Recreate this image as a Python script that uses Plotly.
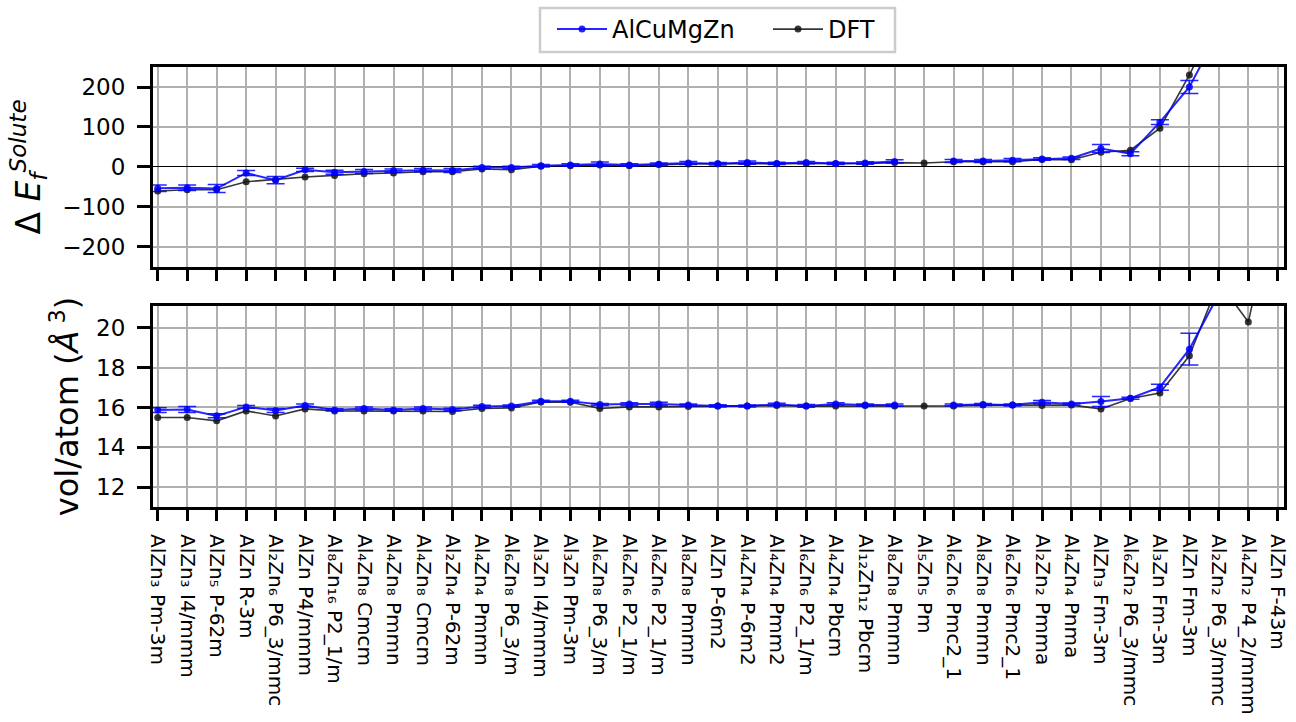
import plotly.graph_objects as go
from plotly.subplots import make_subplots

labels = [
    "AlZn₃ Pm-3m", "AlZn₃ I4/mmm", "AlZn₅ P-62m", "AlZn R-3m", "Al₂Zn₆ P6_3/mmc",
    "AlZn P4/mmm", "Al₈Zn₁₆ P2_1/m", "Al₄Zn₈ Cmcm", "Al₄Zn₈ Pmmn", "Al₄Zn₈ Cmcm",
    "Al₂Zn₄ P-62m", "Al₄Zn₄ Pmmn", "Al₆Zn₈ P6_3/m", "Al₃Zn I4/mmm", "Al₃Zn Pm-3m",
    "Al₆Zn₈ P6_3/m", "Al₆Zn₆ P2_1/m", "Al₆Zn₆ P2_1/m", "Al₈Zn₈ Pmmn", "AlZn P-6m2",
    "Al₄Zn₄ P-6m2", "Al₄Zn₄ Pmm2", "Al₆Zn₆ P2_1/m", "Al₄Zn₄ Pbcm", "Al₁₂Zn₁₂ Pbcm",
    "Al₈Zn₈ Pmmn", "Al₅Zn₅ Pm", "Al₆Zn₆ Pmc2_1", "Al₈Zn₈ Pmmn", "Al₆Zn₆ Pmc2_1",
    "Al₂Zn₂ Pmma", "Al₄Zn₄ Pnma", "AlZn₃ Fm-3m", "Al₆Zn₂ P6_3/mmc", "Al₃Zn Fm-3m",
    "AlZn Fm-3m", "Al₂Zn₂ P6_3/mmc", "Al₄Zn₂ P4_2/mmm", "AlZn F-43m",
]

# Formation energy difference (solute)
dE_model = [-53, -52, -54, -15, -33, -7, -13, -11, -9, -8,
            -9, -1, -1, 3, 5, 7.5, 5, 7, 10, 8,
            11, 9, 11, 9, 10, 14, None, 15, 15, 17,
            20, 22, 46, 33, 112, 200, 340, None, None]
dE_model_err = [8, 7, 10, 6, 9, 4, 5, 5, 4, 4,
                5, 3, 3, 3, 3, 5, 3, 3, 4, 3,
                4, 3, 3, 3, 3, 4, None, 4, 4, 4,
                3, 3, 10, 5, 6, 16, 20, None, None]
dE_dft = [-60, -57, -57, -37, -31, -25, -21, -17, -15, -12,
          -12, -5, -7, 2, 3, 5, 3, 6, 7.5, 8,
          8, 8, 9, 8, 9, 11, 10, 13, 13, 13,
          19, 18, 37, 42, 97, 230, 380, 450, 500]

# Volume per atom
vol_model = [15.87, 15.9, 15.58, 16.03, 15.85, 16.1, 15.88, 15.95, 15.88, 15.95,
             15.9, 16.05, 16.08, 16.32, 16.32, 16.15, 16.17, 16.18, 16.12, 16.08,
             16.08, 16.15, 16.08, 16.18, 16.12, 16.12, None, 16.12, 16.15, 16.13,
             16.27, 16.18, 16.3, 16.47, 17.02, 18.93, 21.7, None, None]
vol_model_err = [0.12, 0.15, 0.1, 0.07, 0.1, 0.07, 0.06, 0.08, 0.06, 0.07,
                 0.06, 0.06, 0.05, 0.05, 0.05, 0.05, 0.07, 0.08, 0.05, 0.06,
                 0.05, 0.06, 0.07, 0.06, 0.05, 0.06, None, 0.05, 0.05, 0.05,
                 0.08, 0.05, 0.25, 0.05, 0.15, 0.8, 0.5, None, None]
vol_dft = [15.5, 15.5, 15.33, 15.83, 15.57, 15.93, 15.83, 15.82, 15.83, 15.82,
           15.8, 15.95, 15.98, 16.28, 16.27, 15.95, 16.03, 16.03, 16.05, 16.07,
           16.07, 16.1, 16.07, 16.07, 16.1, 16.08, 16.07, 16.08, 16.12, 16.12,
           16.1, 16.12, 15.93, 16.45, 16.73, 18.6, 22.3, 20.3, 27.0]

x = list(range(len(labels)))

BLUE = "rgba(0,0,255,0.85)"
DFT_C = "rgba(20,20,20,0.85)"
FONT = "DejaVu Sans"

fig = make_subplots(rows=2, cols=1, shared_xaxes=False)

# DFT first (drawn underneath)
fig.add_trace(go.Scatter(x=x, y=dE_dft, mode="lines+markers", name="DFT",
                         line=dict(color=DFT_C, width=1.6),
                         marker=dict(color=DFT_C, size=7),
                         legendrank=2, showlegend=True), row=1, col=1)
fig.add_trace(go.Scatter(x=x, y=vol_dft, mode="lines+markers", name="DFT",
                         line=dict(color=DFT_C, width=1.6),
                         marker=dict(color=DFT_C, size=7),
                         showlegend=False), row=2, col=1)

fig.add_trace(go.Scatter(x=x, y=dE_model, mode="lines+markers", name="AlCuMgZn",
                         line=dict(color=BLUE, width=2),
                         marker=dict(color=BLUE, size=7),
                         error_y=dict(type="data", array=dE_model_err, visible=True,
                                      color=BLUE, thickness=1.5, width=9),
                         legendrank=1, showlegend=True), row=1, col=1)
fig.add_trace(go.Scatter(x=x, y=vol_model, mode="lines+markers", name="AlCuMgZn",
                         line=dict(color=BLUE, width=2),
                         marker=dict(color=BLUE, size=7),
                         error_y=dict(type="data", array=vol_model_err, visible=True,
                                      color=BLUE, thickness=1.5, width=9),
                         showlegend=False), row=2, col=1)

xr = [-0.16, 38.21]
common_x = dict(range=xr, tickmode="array", tickvals=x, showgrid=True,
                gridcolor="#b0b0b0", gridwidth=1.5, showline=True, linecolor="black",
                linewidth=3, mirror=True, ticks="outside", ticklen=11, tickwidth=2.5,
                tickcolor="black", zeroline=False, automargin=False)
fig.update_xaxes(**common_x, ticktext=[""] * len(x), showticklabels=False, row=1, col=1)
fig.update_xaxes(**common_x, ticktext=labels, tickangle=90, ticklabelstandoff=9,
                 tickfont=dict(family=FONT, size=20, color="black"), row=2, col=1)

common_y = dict(showgrid=True, gridcolor="#b0b0b0", gridwidth=1.5, showline=True,
                linecolor="black", linewidth=3, mirror=True, ticks="outside",
                ticklen=13, tickwidth=2.5, tickcolor="black", automargin=False,
                ticklabelstandoff=7,
                tickfont=dict(family=FONT, size=23, color="black"))
fig.update_yaxes(**common_y, range=[-250, 250], tickvals=[-200, -100, 0, 100, 200],
                 zeroline=True, zerolinecolor="black", zerolinewidth=1.2,
                 title=dict(text="Δ <i>E</i><sub><i>f</i></sub><sup><i>Solute</i></sup>",
                            font=dict(family=FONT, size=33, color="black"), standoff=12),
                 row=1, col=1)
fig.update_yaxes(**common_y, range=[11.0, 21.1], tickvals=[12, 14, 16, 18, 20],
                 zeroline=False,
                 title=dict(text="vol/atom (<i>Å</i><sup> 3</sup>)",
                            font=dict(family=FONT, size=32, color="black"), standoff=8),
                 row=2, col=1)

# legend frame (pixel-matched box around the horizontal legend)
PLOT_L, PLOT_R, PLOT_T, PLOT_B = 153, 1284, 67, 507
def px_x(p):
    return (p - PLOT_L) / (PLOT_R - PLOT_L)
def px_y(p):
    return 1 + (PLOT_T - p) / (PLOT_B - PLOT_T)

fig.add_shape(type="rect", xref="paper", yref="paper",
              x0=px_x(540), x1=px_x(895), y0=px_y(52), y1=px_y(8),
              line=dict(color="#cccccc", width=2.5), fillcolor="rgba(0,0,0,0)",
              layer="above")

fig.update_layout(
    width=1296, height=722,
    margin=dict(l=PLOT_L, r=1296 - PLOT_R, t=PLOT_T, b=722 - PLOT_B, autoexpand=False),
    paper_bgcolor="white", plot_bgcolor="white",
    font=dict(family=FONT, color="black"),
    xaxis=dict(domain=[0, 1]), xaxis2=dict(domain=[0, 1]),
    yaxis=dict(domain=[0.5455, 1.0]), yaxis2=dict(domain=[0.0, 0.4568]),
    legend=dict(orientation="h", x=px_x(552), xanchor="left", y=px_y(7), yanchor="top",
                borderwidth=0, bgcolor="rgba(0,0,0,0)",
                font=dict(family=FONT, size=24, color="black"),
                itemwidth=50, entrywidth=151, traceorder="normal"),
    showlegend=True,
)

fig.write_html("out.html", config={"displayModeBar": False},
               post_script="document.body.style.margin='0px';document.body.style.overflow='hidden';")
